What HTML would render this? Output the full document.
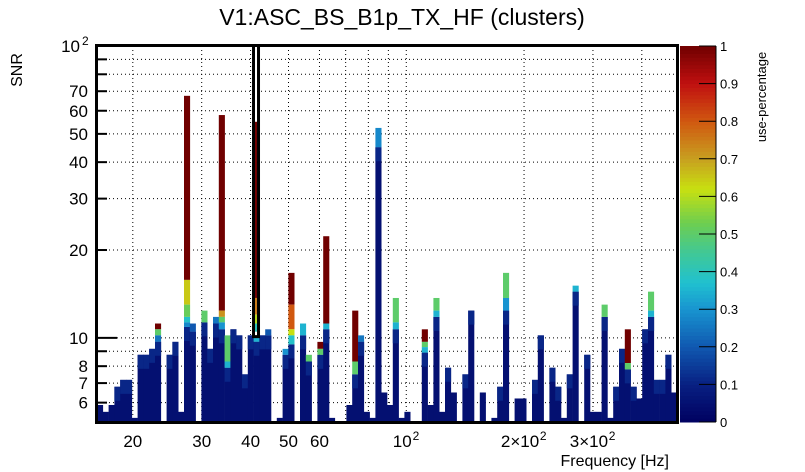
<!DOCTYPE html>
<html><head><meta charset="utf-8"><style>
html,body{margin:0;padding:0;background:#fff;}
svg{display:block;font-family:"Liberation Sans",Arial,sans-serif;}
</style></head><body>
<svg id="chart" width="805" height="472" viewBox="0 0 805 472" xmlns="http://www.w3.org/2000/svg">
<rect width="805" height="472" fill="#fff"/>
<text x="402" y="25" font-size="23" text-anchor="middle" fill="#000">V1:ASC_BS_B1p_TX_HF (clusters)</text>
<text transform="translate(22,70) rotate(-90)" font-size="16" text-anchor="middle">SNR</text>
<text x="669" y="466" font-size="16" text-anchor="end">Frequency [Hz]</text>
<text transform="translate(766,97) rotate(-90)" font-size="13" text-anchor="middle">use-percentage</text>
<g id="grid"></g>
<g id="bins"></g>
<g id="axes"></g>
<g id="cbar"></g>
</svg>
<script>
// ---- data ----
const binCount = 100;
const freqMin = 16.2, freqMax = 492;
const snrTop = [5.89,5.58,5.89,6.8,7.18,7.18,5.32,8.75,8.75,9.17,
 11.2,0,8.75,9.69,5.58,67.5,11.2,0,12.4,9.17,
 11.8,58,10.2,10.7,10.2,7.5,10.2,10.2,10.2,10.7,
 0,5.32,9.17,16.7,0,11.2,8.75,0,9.69,22.3,
 5.32,0,0,5.89,12.4,10.2,5.58,5.32,52.4,6.5,
 5.89,13.7,5.32,5.58,0,0,10.7,5.89,13.7,5.58,
 7.9,6.5,0,7.5,12.4,0,6.5,0,5.32,6.8,
 16.7,0,6.2,6.2,0,7.18,10.2,0,7.9,6.8,
 5.32,7.5,15.1,0,8.75,5.58,5.58,13.0,5.32,6.8,
 9.17,10.7,6.8,6.2,10.7,14.4,7.18,7.18,8.75,6.5];
// colored top segments: [binIndex, useValue, fromSNR]
const segBin  = [10,10,10, 15,15,15,15,15, 16, 18, 20, 21,21,21,21, 22,22, 27, 29, 32, 33,33,33,33, 35, 36, 38,38, 39,39, 44,44, 45, 48, 51,51, 56,56,56, 58,58, 70,70, 82, 87, 91,91, 95,95];
const segVal  = [1.0,0.5,0.25, 1.0,0.65,0.52,0.38,0.28, 0.2, 0.5, 0.25, 1.0,0.72,0.5,0.3, 0.5,0.35, 0.35, 0.2, 0.3, 1.0,0.8,0.62,0.38, 0.35, 0.5, 1.0,0.5, 1.0,0.35, 1.0,0.5, 0.25, 0.28, 0.5,0.35, 1.0,0.5,0.35, 0.5,0.35, 0.5,0.3, 0.35, 0.5, 1.0,0.5, 0.5,0.35];
const segFrom = [10.7,10.2,9.7, 15.8,13.0,11.8,11.3,10.9, 10.5, 11.3, 11.2, 12.4,11.8,11.3,10.7, 8.3,7.9, 9.7, 10.2, 8.75, 13.0,10.7,10.2,9.5, 10.2, 8.3, 9.17,8.75, 11.2,10.7, 8.3,7.5, 9.7, 45, 11.3,10.7, 9.69,9.3,8.9, 12.4,11.8, 13.7,12.4, 14.4, 11.8, 8.2,7.8, 12.4,11.8];
// narrow outlined spike near 41 Hz
const spikeFreq = [41.3];
const spikeTop = [55];
const spikeVal = [1.0, 0.75, 0.6, 0.4];
const spikeFrom = [13.7, 12.0, 11.2, 10.5];
const yTicks = [6,7,8,9,10,20,30,40,50,60,70,80,90,100];
const yLabels = ["6","7","8","","10","20","30","40","50","60","70","","",""];
const xGrid = [20,30,40,50,60,70,80,90,100,200,300,400];
const xLabels = [[20,"20"],[30,"30"],[40,"40"],[50,"50"],[60,"60"]];
const cbTicks = [0,0.1,0.2,0.3,0.4,0.5,0.6,0.7,0.8,0.9,1];

// ---- scales ----
const L=97,R=677,T=46,B=422;
const X = f => L + (R-L)*Math.log10(f/freqMin)/Math.log10(freqMax/freqMin);
const yMin = 5.15, yMax = 100;
const Y = v => B - (B-T)*Math.log10(v/yMin)/Math.log10(yMax/yMin);
const stops=[[0,[0,0,96]],[0.1,[8,32,130]],[0.2,[16,88,176]],[0.3,[24,148,208]],[0.37,[32,192,208]],[0.45,[64,200,150]],[0.53,[110,206,80]],[0.62,[200,224,16]],[0.7,[200,160,32]],[0.8,[208,88,16]],[0.9,[192,16,16]],[1,[112,0,0]]];
function col(v){for(let i=1;i<stops.length;i++){if(v<=stops[i][0]){const a=stops[i-1],b=stops[i];const t=(v-a[0])/(b[0]-a[0]);const c=a[1].map((x,k)=>Math.round(x+(b[1][k]-x)*t));return `rgb(${c})`;}}return 'rgb(112,0,0)';}
const NS="http://www.w3.org/2000/svg";
function mk(tag,attrs,parent){const e=document.createElementNS(NS,tag);for(const k in attrs)e.setAttribute(k,attrs[k]);parent.appendChild(e);return e;}

// grid
const grid=document.getElementById('grid');
yTicks.forEach(v=>{const l=mk('line',{x1:L,x2:R,y1:Y(v),y2:Y(v),stroke:'#000','stroke-width':1,'stroke-dasharray':'1,3'},grid);

});
xGrid.forEach(f=>{const l=mk('line',{x1:X(f),x2:X(f),y1:T,y2:B,stroke:'#000','stroke-width':1,'stroke-dasharray':'1,3'},grid);

});

// bins
const bins=document.getElementById('bins');
const edge=i=>freqMin*Math.pow(freqMax/freqMin,i/binCount);
for(let i=0;i<binCount;i++){
  const top=snrTop[i]; if(!top) continue;
  const x0=X(edge(i)), x1=X(edge(i+1));
  const g=mk('g',{},bins);
  
  
  const segs=[];segBin.forEach((b,k)=>{if(b===i)segs.push([segVal[k],segFrom[k]]);});
  segs.sort((a,b)=>b[1]-a[1]);
  const lowest = segs.length?Math.min(...segs.map(s=>s[1])):top;
  mk('rect',{x:x0,y:Y(lowest),width:x1-x0+0.3,height:B-Y(lowest),fill:col(0.05)},g);
  if(lowest>6.5) mk('rect',{x:x0,y:Y(lowest),width:x1-x0+0.3,height:Math.min(B-Y(lowest),14),fill:col(0.11)},g);
  let upper=top;
  segs.forEach(s=>{const ya=Y(Math.min(upper,top)),yb=Y(Math.min(s[1],top));
    mk('rect',{x:x0,y:ya,width:x1-x0+0.3,height:Math.max(0,yb-ya),fill:col(s[0])},g);upper=s[1];});
}
// spike
spikeFreq.forEach((f,k)=>{
  const xc=X(f);
  const g=mk('g',{},bins);
  
  
  let upper=spikeTop[k];
  spikeVal.forEach((v,j)=>{const ya=Y(upper),yb=Y(spikeFrom[j]);mk('rect',{x:xc-1,y:ya,width:2,height:yb-ya,fill:col(v)},g);upper=spikeFrom[j];});
  mk('path',{d:`M${xc-2.5},${T} V${Y(10.1)} H${xc+2.5} V${T}`,fill:'none',stroke:'#000','stroke-width':3},g);
});

// axes
const ax=document.getElementById('axes');
const fr=mk('rect',{x:L-0.5,y:T-0.5,width:R-L+1,height:B-T+1,fill:'none',stroke:'#000','stroke-width':3},ax);


yTicks.forEach((v,k)=>{const long=(v===10||v===100);
  mk('line',{x1:L,x2:L+(long?20:10),y1:Y(v),y2:Y(v),stroke:'#000','stroke-width':2},ax);
  if(yLabels[k]){const t=mk('text',{x:88,y:Y(v)+6,'font-size':17,'text-anchor':'end'},ax);t.textContent=yLabels[k];
  
  }});
const t100=mk('text',{x:80,y:Y(100)+6,'font-size':17,'text-anchor':'end'},ax);t100.textContent='10';


const s100=mk('text',{x:82,y:Y(100)-1,'font-size':12},ax);s100.textContent='2';


xLabels.forEach(([f,s])=>{const t=mk('text',{x:X(f),y:447,'font-size':17,'text-anchor':'middle'},ax);t.textContent=s;
  
  });
[[100,"10","2"],[200,"2×10","2"],[300,"3×10","2"]].forEach(([f,s,e])=>{
  const t=mk('text',{x:X(f)-4,y:447,'font-size':17,'text-anchor':'middle'},ax);t.textContent=s;
  
  
  const w=s.length*4.7;
  const ex=mk('text',{x:X(f)-4+w+1,y:440,'font-size':12},ax);ex.textContent=e;
  
  });

// colorbar
const cb=document.getElementById('cbar');
const cg=mk('g',{},cb);


for(let i=0;i<100;i++){const v0=i/100;const ya=B-(B-T)*(i+1)/100;mk('rect',{x:680,y:ya,width:36,height:(B-T)/100+0.5,fill:col(v0+0.005)},cg);}
mk('line',{x1:716,x2:716,y1:T,y2:B,stroke:'#000','stroke-width':1},cg);
cbTicks.forEach(v=>{const y=B-(B-T)*v;mk('line',{x1:699,x2:716,y1:y,y2:y,stroke:'#000','stroke-width':1},cg);
  const t=mk('text',{x:720,y:y+5,'font-size':13},cg);t.textContent=String(v);
  
  });
</script>
</body></html>
